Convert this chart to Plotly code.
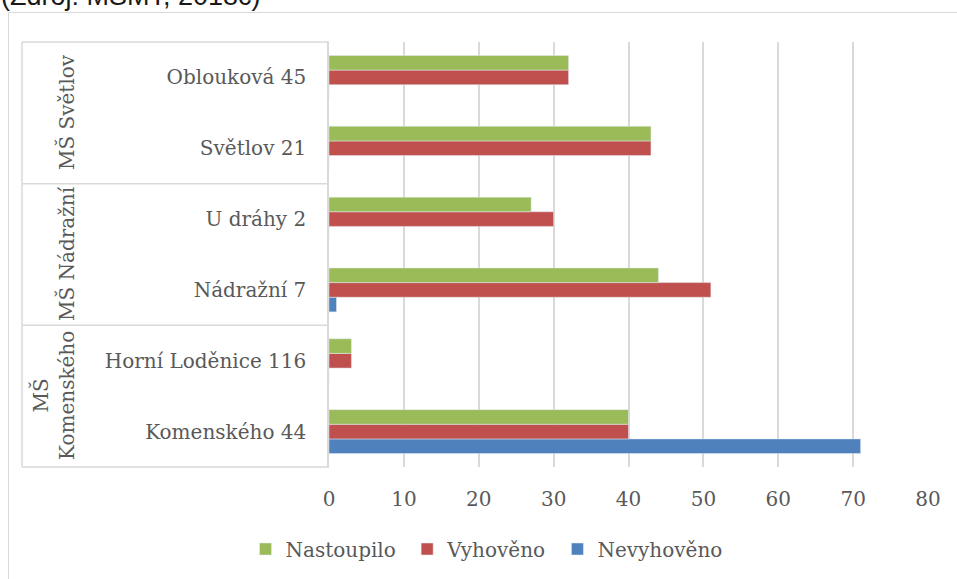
import plotly.graph_objects as go

# Data
locations = ["Komenského 44", "Horní Loděnice 116", "Nádražní 7", "U dráhy 2", "Světlov 21", "Oblouková 45"]
groups = ["MŠ<br>Komenského", "MŠ Nádražní", "MŠ Světlov"]
series_names = ["Nastoupilo", "Vyhověno", "Nevyhověno"]
nastoupilo = [40, 3, 44, 27, 43, 32]
vyhoveno = [40, 3, 51, 30, 43, 32]
nevyhoveno = [71, 0, 1, 0, 0, 0]
x_ticks = [0, 10, 20, 30, 40, 50, 60, 70, 80]

FONT = "DejaVu Serif"
TXT = "#595959"
GRID = "#d9d9d9"
NB = "\u00a0"

fig = go.Figure()
fig.add_trace(go.Bar(y=locations, x=nevyhoveno, name=series_names[2] + NB, orientation="h",
                     marker=dict(color="#4F81BD"), legendrank=3))
fig.add_trace(go.Bar(y=locations, x=vyhoveno, name=series_names[1] + NB, orientation="h",
                     marker=dict(color="#C0504D"), legendrank=2))
fig.add_trace(go.Bar(y=locations, x=nastoupilo, name=series_names[0] + NB, orientation="h",
                     marker=dict(color="#9BBB59"), legendrank=1))

L, R, T, B = 329, 928, 42, 467
W, H = 957, 579
pw, ph = R - L, B - T


def px(x):
    return (x - L) / pw


def py(y):
    return (B - y) / ph


fig.update_layout(
    width=W, height=H,
    margin=dict(l=L, r=W - R, t=T, b=H - B, autoexpand=False),
    paper_bgcolor="white", plot_bgcolor="white",
    barmode="group", bargap=0.38, bargroupgap=0,
    font=dict(family=FONT, size=20, color=TXT),
    showlegend=True,
    legend=dict(orientation="h", x=px(490), xanchor="center", y=py(549), yanchor="middle",
                font=dict(family=FONT, size=20, color=TXT), itemwidth=30, tracegroupgap=0),
    xaxis=dict(range=[0, 80], tickvals=x_ticks, showgrid=True, gridcolor=GRID, gridwidth=1.5,
               zeroline=False, showline=False, ticks="", ticklabelstandoff=18,
               tickfont=dict(family=FONT, size=20, color=TXT), fixedrange=True),
    yaxis=dict(type="category", categoryorder="array", categoryarray=locations,
               showgrid=False, showline=True, linecolor=GRID, linewidth=1.5, ticks="",
               ticklabelstandoff=17, tickfont=dict(family=FONT, size=20, color=TXT),
               fixedrange=True),
)

shapes = []
# category table lines
for yy in [T, 183.7, 325.3, B]:
    shapes.append(dict(type="line", xref="paper", yref="paper", x0=px(22), x1=0, y0=py(yy), y1=py(yy),
                       line=dict(color=GRID, width=1.5)))
shapes.append(dict(type="line", xref="paper", yref="paper", x0=px(22), x1=px(22), y0=py(T), y1=py(B),
                   line=dict(color=GRID, width=1.5)))
# outer border
shapes.append(dict(type="rect", xref="paper", yref="paper", x0=px(8.5), x1=px(990), y0=py(12.5), y1=py(620),
                   line=dict(color=GRID, width=1)))
fig.update_layout(shapes=shapes)

# group labels
centers = [396, 254, 112]
xs = [53, 67, 67]
for g, c, xg in zip(groups, centers, xs):
    fig.add_annotation(text=g, xref="paper", yref="paper", x=px(xg), y=py(c), textangle=-90,
                       showarrow=False, xanchor="center", yanchor="middle",
                       font=dict(family=FONT, size=20, color=TXT))

# source note (cut off at top)
fig.add_annotation(text="(Zdroj: MŠMT, 2018c)", xref="paper", yref="paper", x=px(-1), y=py(-5),
                   xanchor="left", yanchor="middle", showarrow=False,
                   font=dict(family="Liberation Sans", size=27, color="#1a1a1a"))

fig.write_html("out.html", config={"displayModeBar": False},
               post_script="document.body.style.margin='0';document.body.style.overflow='hidden';")
